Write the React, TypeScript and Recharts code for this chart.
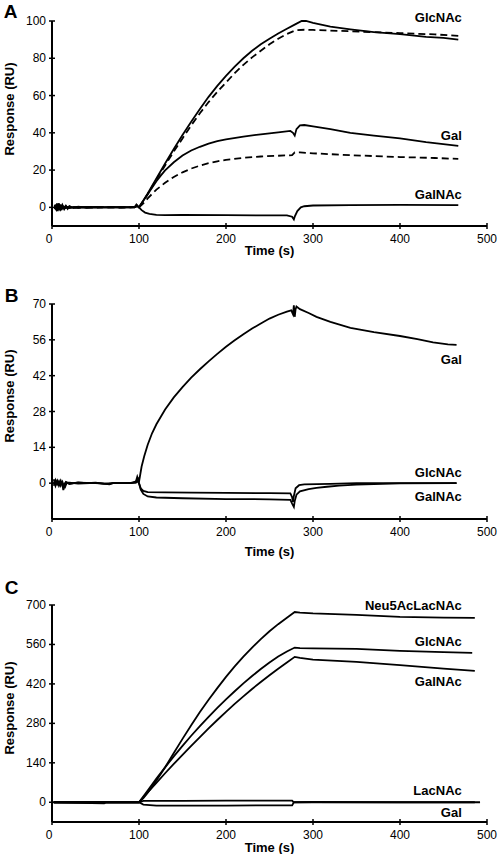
import React from 'react';
import { LineChart, Line, XAxis, YAxis, ReferenceDot } from 'recharts';

type Pt = [number, number];

const FONT = '"Liberation Sans", Arial, Helvetica, sans-serif';

// ---------- axis ticks ----------
const timeTicks = [0, 100, 200, 300, 400, 500];
const ticksA = [0, 20, 40, 60, 80, 100];
const ticksB = [0, 14, 28, 42, 56, 70];
const ticksC = [0, 140, 280, 420, 560, 700];

// ---------- Panel A (response RU vs time s) ----------
const aGlcNAcSolid: Pt[] = [
  [3, 1], [5, -1.5], [6, 2], [7, -1], [8, 2.2], [9, -0.8], [10, 1.5], [11, -1.5], [12, 1], [14, -1], [16, 0.8], [18, -0.8],
  [20, 0.6], [25, -0.4], [30, 0.4], [40, -0.2], [50, 0.2], [60, 0], [70, 0.1], [80, 0], [90, 0.1], [95, 0.2], [97, 1.5], [99, 0.3],
  [100, 0], [110, 7.5], [120, 15.5], [130, 23.5], [140, 31.3], [150, 38.8], [160, 46], [170, 52.8], [180, 59.3], [190, 65.2],
  [200, 70.5], [210, 75.5], [220, 80], [230, 84], [240, 87.5], [250, 90.5], [260, 93.3], [270, 95.8], [280, 98.3], [287, 100],
  [292, 100], [300, 99], [320, 97], [343, 95.5], [370, 94], [400, 93], [430, 91.5], [450, 91], [467, 90],
];
const aGlcNAcDashed: Pt[] = [
  [3, -1], [5, 1.5], [6, -2], [7, 1.5], [8, -1.5], [9, 1], [10, -1], [12, 1.2], [14, -0.8], [16, 0.6], [18, -0.5], [20, 0.4],
  [25, -0.3], [30, 0.3], [40, 0], [50, -0.2], [60, 0.1], [70, 0], [80, -0.1], [90, 0], [96, 0.3], [98, 1.2], [100, 0],
  [110, 7], [120, 15], [130, 22.5], [140, 30], [150, 37], [160, 44], [170, 50.5], [180, 56.5], [190, 62], [200, 67],
  [210, 72], [220, 76.5], [230, 80.5], [240, 84], [250, 87.5], [260, 90.5], [270, 93], [280, 95], [290, 95.3], [300, 95.2],
  [343, 94.5], [400, 93.5], [440, 92.8], [467, 92],
];
const aGalSolid: Pt[] = [
  [3, 0.5], [5, -1], [6, 1.8], [7, -0.5], [8, 1], [10, -1.2], [12, 0.8], [14, -0.6], [16, 0.5], [20, -0.4], [25, 0.3], [30, -0.2],
  [40, 0.2], [60, 0], [80, 0.1], [95, 0], [98, 1], [100, 0],
  [105, 3.5], [110, 7], [115, 10.5], [120, 14], [125, 17], [130, 19.8], [140, 24.2], [150, 27.8], [160, 30.5], [170, 32.5],
  [180, 34.2], [190, 35.5], [200, 36.5], [220, 38], [240, 39.2], [260, 40.2], [274, 41], [277, 40], [279, 38.5], [281, 42],
  [285, 44], [290, 44.2], [300, 43.5], [320, 42], [343, 40], [370, 38.5], [400, 37], [430, 35], [467, 33],
];
const aGalDashed: Pt[] = [
  [3, -0.5], [5, 1], [6, -1.5], [8, 1.2], [10, -0.8], [12, 0.6], [15, -0.5], [20, 0.3], [30, -0.2], [45, 0.1], [70, 0], [95, 0.1],
  [98, 0.8], [100, 0],
  [105, 2.2], [110, 4.8], [115, 7.2], [120, 9.5], [130, 13.2], [140, 16.3], [150, 18.8], [160, 20.8], [170, 22.4], [180, 23.7],
  [190, 24.7], [200, 25.5], [220, 26.6], [240, 27.3], [260, 27.7], [276, 28], [279, 29.5], [285, 29.5], [300, 29], [343, 28],
  [400, 27], [440, 26.5], [467, 26],
];
const aGalNAc: Pt[] = [
  [3, 1.5], [5, -0.8], [6, 1], [8, -1.2], [10, 0.8], [12, -0.5], [15, 0.5], [20, -0.3], [30, 0.2], [50, 0], [70, 0.1], [95, 0],
  [98, 0.6], [100, 0],
  [103, -1.5], [107, -2.8], [112, -3.5], [120, -4], [130, -4.2], [150, -4], [200, -4.2], [250, -4.3], [270, -4.3], [276, -5],
  [278, -6.5], [279, -5], [282, -2], [286, 0], [290, 0.6], [300, 1], [343, 1.2], [400, 1.3], [467, 1.2],
];

// ---------- Panel B ----------
const bGal: Pt[] = [
  [2, 1.5], [4, -1], [6, 0.8], [8, -0.5], [10, 1], [12, -0.8], [13, -2.7], [14, -0.5], [16, 0.5], [20, -0.3], [30, 0.3], [40, 0],
  [50, 0.2], [60, -0.2], [70, 0], [80, 0], [90, 0.1], [96, 0.2], [98, 2.5], [100, 0.5],
  [101, 2.5], [103, 6.5], [106, 10.5], [110, 15], [115, 19.5], [120, 23], [130, 28.8], [140, 33.5], [150, 37.5], [160, 41.2],
  [170, 44.5], [180, 47.6], [190, 50.5], [200, 53.3], [210, 55.8], [220, 58.2], [230, 60.4], [240, 62.4], [250, 64.3],
  [260, 65.8], [270, 67], [275, 67.5], [277, 66], [278, 69.5], [279, 65], [280, 68], [281, 69], [285, 68], [295, 66.5],
  [304, 65], [320, 63], [343, 60.7], [370, 59], [400, 57.5], [420, 56.3], [438, 55], [455, 54.2], [465, 54],
];
const bGlcNAc: Pt[] = [
  [2, -1], [4, 1.2], [6, -0.5], [8, 0.8], [10, -1], [12, 0.5], [14, -1.5], [16, 0.3], [20, -0.2], [30, 0.2], [50, 0], [65, -0.3],
  [70, 0], [90, 0], [97, 0.3], [99, 1.5], [100, 0],
  [102, -2], [105, -3], [110, -3.5], [130, -3.6], [160, -3.7], [200, -3.8], [250, -3.9], [274, -4], [276, -5.5], [277, -7.3],
  [278, -5], [280, -2], [284, -0.8], [290, -0.5], [320, -0.3], [350, 0], [400, 0], [465, 0],
];
const bGalNAc: Pt[] = [
  [2, 0.5], [4, -0.5], [6, 1], [8, -1], [10, 0.5], [12, -0.3], [15, -1.5], [17, 0.2], [20, 0.2], [30, -0.2], [50, 0.1], [66, -0.5],
  [70, 0], [90, 0], [98, 0.8], [100, 0],
  [102, -2.5], [105, -4.2], [110, -5.2], [120, -5.6], [150, -5.9], [200, -6.2], [250, -6.3], [274, -6.5], [276, -8], [278, -9.3],
  [279, -7], [281, -4.5], [285, -3.2], [295, -2.3], [304, -1.8], [316, -1.4], [330, -1], [350, -0.6], [400, -0.1], [465, 0],
];

// ---------- Panel C ----------
const cNeu5AcLacNAc: Pt[] = [
  [2, 0], [30, -2], [60, -4], [62, 0], [100, 0],
  [105, 15], [110, 34], [115, 55], [120, 77], [125, 100], [130, 124], [140, 175], [150, 225], [160, 273], [170, 320],
  [180, 364], [190, 405], [200, 445], [210, 482], [220, 517], [230, 549], [240, 579], [250, 607], [260, 632], [270, 655],
  [279, 675], [285, 673], [300, 670], [350, 665], [400, 658], [450, 655], [486, 654],
];
const cGlcNAc: Pt[] = [
  [2, 0], [50, 0], [100, 0],
  [110, 42], [120, 84], [130, 124], [140, 163], [150, 200], [160, 236], [170, 270], [180, 303], [190, 335], [200, 365],
  [210, 394], [220, 422], [230, 448], [240, 473], [250, 496], [260, 517], [270, 535], [279, 549], [285, 547], [300, 546],
  [350, 544], [400, 537], [450, 533], [483, 530],
];
const cGalNAc: Pt[] = [
  [2, 0], [50, 0], [100, 0],
  [110, 35], [120, 69], [130, 103], [140, 136], [150, 168], [160, 200], [170, 231], [180, 262], [190, 292], [200, 321],
  [210, 349], [220, 376], [230, 402], [240, 427], [250, 451], [260, 474], [270, 496], [279, 516], [285, 512], [300, 506],
  [350, 498], [400, 487], [450, 474], [486, 466],
];
const cLacNAc: Pt[] = [
  [2, 0], [50, 0], [100, 0], [105, 5], [150, 5], [200, 6], [250, 6], [276, 6], [278, 0], [300, 1], [400, 0], [492, 0],
];
const cGal: Pt[] = [
  [2, 0], [100, 0], [105, -8], [120, -12], [200, -12], [250, -11], [276, -11], [278, 0], [300, 0], [400, 0], [486, 0],
];

// ---------- series annotations (time, value) ----------
const labelTime = 471;
const labelsA: [string, number][] = [['GlcNAc', 102], ['Gal', 38.7], ['GalNAc', 7.1]];
const labelsB: [string, number][] = [['Gal', 48.5], ['GlcNAc', 4.0], ['GalNAc', -5.3]];
const labelsC: [string, number][] = [['Neu5AcLacNAc', 697], ['GlcNAc', 569], ['GalNAc', 427], ['LacNAc', 41], ['Gal', -37]];

const toData = (pts: Pt[]) => pts.map(([t, v]) => ({ t, v }));

const XTick = (props: any) => {
  const { x, y, payload } = props;
  return (
    <g>
      <line x1={x} x2={x} y1={y - 3} y2={y + 3} stroke="#000" strokeWidth={1.5} />
      <text x={payload.value === 0 ? x - 3 : x} y={y + 13} textAnchor="middle" dominantBaseline="central" fontSize={12} fontFamily={FONT} fill="#000">
        {payload.value}
      </text>
    </g>
  );
};

const YTick = (props: any) => {
  const { x, y, payload } = props;
  return (
    <g>
      <line x1={x - 3} x2={x + 3} y1={y} y2={y} stroke="#000" strokeWidth={1.5} />
      <text x={x - 6} y={y} textAnchor="end" dominantBaseline="central" fontSize={12} fontFamily={FONT} fill="#000">
        {payload.value}
      </text>
    </g>
  );
};

type Series = { pts: Pt[]; dashed?: boolean };

type PanelProps = {
  top: number;
  height: number;
  margin: { top: number; right: number; bottom: number; left: number };
  yDomain: [number, number];
  yTicks: number[];
  series: Series[];
  labels: [string, number][];
  yLabelY: number;
  timeDy: number;
};

const Panel = ({ top, height, margin, yDomain, yTicks, series, labels, yLabelY, timeDy }: PanelProps) => (
  <div style={{ position: 'absolute', left: 0, top, width: 500, height }}>
    <LineChart width={500} height={height} margin={margin}>
      <XAxis
        type="number"
        dataKey="t"
        domain={[0, 500]}
        ticks={timeTicks}
        interval={0}
        height={30}
        axisLine={{ stroke: '#000', strokeWidth: 2 }}
        tickLine={false}
        tickSize={0}
        tickMargin={0}
        tick={<XTick />}
        label={(p: any) => (
          <text
            x={p.viewBox.x + p.viewBox.width / 2}
            y={p.viewBox.y + timeDy}
            textAnchor="middle"
            dominantBaseline="central"
            fontSize={13}
            fontWeight="bold"
            fontFamily={FONT}
            fill="#000"
          >
            Time (s)
          </text>
        )}
      />
      <YAxis
        type="number"
        domain={yDomain}
        ticks={yTicks}
        interval={0}
        width={52}
        axisLine={{ stroke: '#000', strokeWidth: 2 }}
        tickLine={false}
        tickSize={0}
        tickMargin={0}
        tick={<YTick />}
        label={() => (
          <text
            x={9}
            y={yLabelY - top}
            transform={`rotate(-90, 9, ${yLabelY - top})`}
            textAnchor="middle"
            dominantBaseline="central"
            fontSize={13}
            fontWeight="bold"
            fontFamily={FONT}
            fill="#000"
          >
            Response (RU)
          </text>
        )}
      />
      {series.map((s, i) => (
        <Line
          key={i}
          data={toData(s.pts)}
          dataKey="v"
          type="linear"
          stroke="#000"
          strokeWidth={1.8}
          strokeDasharray={s.dashed ? '7 4' : undefined}
          dot={false}
          activeDot={false}
          isAnimationActive={false}
        />
      ))}
      {labels.map(([name, v]) => (
        <ReferenceDot
          key={name}
          x={labelTime}
          y={v}
          r={0}
          fill="none"
          stroke="none"
          ifOverflow="visible"
          label={(p: any) => (
            <text
              x={p.viewBox.x + (p.viewBox.width || 0) / 2}
              y={p.viewBox.y + (p.viewBox.height || 0) / 2}
              textAnchor="end"
              dominantBaseline="central"
              fontSize={13}
              fontWeight="bold"
              fontFamily={FONT}
              fill="#000"
            >
              {name}
            </text>
          )}
        />
      ))}
    </LineChart>
  </div>
);

export default function App() {
  return (
    <div style={{ position: 'absolute', left: 0, top: 0, width: 500, height: 854, background: '#fff', overflow: 'hidden' }}>
      <Panel
        top={0}
        height={290}
        margin={{ top: 21, right: 13, bottom: 34, left: 0 }}
        yDomain={[-10, 100]}
        yTicks={ticksA}
        series={[
          { pts: aGlcNAcSolid },
          { pts: aGlcNAcDashed, dashed: true },
          { pts: aGalSolid },
          { pts: aGalDashed, dashed: true },
          { pts: aGalNAc },
        ]}
        labels={labelsA}
        yLabelY={109}
        timeDy={24}
      />
      <Panel
        top={290}
        height={270}
        margin={{ top: 14, right: 13, bottom: 11, left: 0 }}
        yDomain={[-14, 70]}
        yTicks={ticksB}
        series={[{ pts: bGal }, { pts: bGlcNAc }, { pts: bGalNAc }]}
        labels={labelsB}
        yLabelY={396}
        timeDy={32}
      />
      <Panel
        top={560}
        height={294}
        margin={{ top: 45, right: 13, bottom: 2, left: 0 }}
        yDomain={[-70, 700]}
        yTicks={ticksC}
        series={[{ pts: cNeu5AcLacNAc }, { pts: cGlcNAc }, { pts: cGalNAc }, { pts: cLacNAc }, { pts: cGal }]}
        labels={labelsC}
        yLabelY={708}
        timeDy={25}
      />
      <svg width={500} height={854} style={{ position: 'absolute', left: 0, top: 0, pointerEvents: 'none' }}>
        <text x={10.5} y={11.5} textAnchor="middle" dominantBaseline="central" fontSize={19} fontWeight="bold" fontFamily={FONT} fill="#000">A</text>
        <text x={11.5} y={295} textAnchor="middle" dominantBaseline="central" fontSize={19} fontWeight="bold" fontFamily={FONT} fill="#000">B</text>
        <text x={11.5} y={587.5} textAnchor="middle" dominantBaseline="central" fontSize={19} fontWeight="bold" fontFamily={FONT} fill="#000">C</text>
      </svg>
    </div>
  );
}
